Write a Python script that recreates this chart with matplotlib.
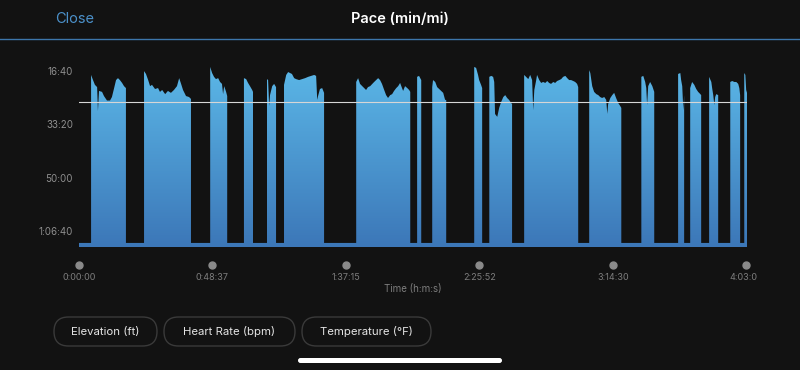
import numpy as np
import matplotlib
matplotlib.use('Agg')
import matplotlib.pyplot as plt
from matplotlib.colors import to_rgb
from matplotlib.patches import FancyBboxPatch, Rectangle
from matplotlib.transforms import blended_transform_factory

plt.rcParams['font.family'] = ['Inter', 'DejaVu Sans']

# elapsed time (minutes) and pace (min/mi) while moving; None = paused
elapsed_min = [
    4.4, 5.1, 5.8, 6.6, 6.9, 7.3, 8.4, 9.1, 10.2, 11.3, 12.0, 12.8, 13.5, 14.2, 14.9, 15.7, 16.4, 17.1, None,
    23.7, 24.4, 25.2, 25.9, 26.6, 27.7, 28.8, 29.5, 30.3, 31.4, 32.4, 33.5, 34.6, 35.7, 36.5, 37.2, 37.9, 39.0, 40.1, 40.8, None,
    47.8, 48.5, 49.2, 49.9, 50.7, 51.4, 52.1, 52.5, 52.9, 53.6, 54.0, None,
    60.1, 60.9, 61.6, 62.3, 63.1, 63.4, None,
    68.5, 68.9, 69.3, 69.6, 70.4, 71.1, 71.8, None,
    74.7, 75.5, 76.2, 76.9, 77.6, 78.4, 79.1, 80.2, 81.3, 82.4, 83.5, 84.6, 85.7, 86.4, 86.8, 87.1, 87.8, 88.6, 89.3, None,
    101.0, 101.7, 102.4, 103.2, 103.9, 104.6, 105.3, 106.1, 107.2, 107.9, 109.0, 109.7, 110.4, 111.2,
    111.9, 112.6, 113.4, 114.1, 114.8, 115.6, 116.3, 117.0, 117.7, 118.1, 118.8, 119.6, 120.3, 120.7, None,
    123.2, 123.9, 124.7, None,
    128.7, 129.0, 129.8, 130.5, 131.6, 132.7, 133.4, 133.8, None,
    144.0, 144.7, 145.4, 145.8, 146.5, 146.9, None,
    149.5, 150.2, 150.9, 151.3, 151.6, 152.4, 153.1, 153.8, 154.6, 155.3, 156.0, 156.7, 157.5, 157.8, None,
    162.2, 162.9, 163.7, 164.4, 165.1, 165.5, 165.9, 166.6, 166.9, 167.7, 168.4, 169.1, 169.9, 170.6, 171.3,
    172.0, 172.8, 173.5, 174.2, 175.0, 175.7, 176.4, 177.2, 177.9, 178.6, 179.3, 180.1, 180.8, 181.5, 181.9, None,
    185.9, 186.3, 187.0, 187.7, 188.5, 189.2, 189.9, 190.6, 191.4, 192.1, 192.5, 192.8, 193.6, 194.3, 195.0, 195.7, 196.5, 197.2, 197.6, None,
    204.9, 205.6, 206.3, 206.7, 207.0, 207.4, 208.1, 208.9, 209.6, None,
    218.3, 219.1, 219.4, 219.8, 220.2, 220.5, None,
    222.7, 223.4, 224.2, 224.9, 225.6, 226.4, 226.7, None,
    229.6, 230.4, 230.7, 231.1, 231.5, 231.8, 232.2, 232.9, None,
    237.3, 238.0, 238.8, 239.5, 240.2, 240.6, 240.9, None,
    242.4, 242.8, 243.1, 243.4,
]
pace_min = [
    17.9, 19.5, 21.0, 21.7, 29.2, 22.9, 23.2, 24.5, 25.9, 25.9, 24.8, 22.0, 19.5, 18.9, 19.5, 20.4, 21.4, 22.0, None,
    16.7, 17.6, 19.5, 21.4, 21.0, 22.3, 22.0, 23.2, 22.6, 23.9, 22.9, 23.5, 22.6, 21.4, 18.9, 20.7, 22.6, 24.5, 24.8, 25.4, None,
    15.4, 17.3, 18.5, 19.2, 18.9, 20.1, 20.7, 23.9, 21.4, 23.2, 24.5, None,
    18.9, 19.2, 20.4, 21.4, 22.6, 23.2, None,
    19.2, 19.5, 27.6, 24.2, 21.4, 20.7, 21.7, None,
    21.0, 17.9, 17.0, 17.3, 17.6, 18.9, 19.2, 19.5, 19.2, 18.9, 18.5, 18.2, 17.9, 18.2, 25.7, 24.5, 22.3, 22.0, 23.5, None,
    20.1, 18.9, 20.7, 21.4, 22.0, 22.6, 21.7, 21.4, 20.4, 19.8, 18.9, 19.5, 20.7, 22.6,
    24.2, 25.1, 24.2, 23.9, 22.9, 22.0, 21.4, 20.4, 22.0, 22.9, 21.4, 22.0, 22.6, 23.2, None,
    18.5, 18.2, 19.5, None,
    21.7, 19.5, 20.1, 21.7, 22.6, 23.5, 25.7, 25.7, None,
    15.4, 15.7, 17.9, 19.5, 21.0, 22.0, None,
    18.5, 18.2, 18.5, 20.1, 30.1, 31.0, 28.2, 26.4, 24.8, 24.2, 25.1, 25.7, 26.7, 27.0, None,
    17.9, 18.5, 19.2, 17.9, 19.5, 28.9, 22.6, 19.5, 17.9, 19.5, 20.4, 20.1, 20.4, 19.8, 20.4,
    20.7, 20.1, 20.4, 19.8, 19.5, 19.2, 18.5, 18.2, 18.9, 19.5, 19.5, 19.8, 20.1, 20.7, 21.7, None,
    16.4, 17.3, 21.4, 23.2, 23.9, 24.2, 24.8, 25.1, 24.8, 25.7, 30.1, 27.0, 25.1, 24.2, 23.5, 25.1, 26.7, 27.6, 28.2, None,
    18.5, 18.2, 20.1, 22.0, 27.3, 21.4, 20.1, 21.4, 23.2, None,
    17.6, 17.3, 19.5, 21.4, 28.9, 24.2, None,
    22.0, 20.1, 21.0, 22.3, 23.2, 23.9, 24.2, None,
    18.5, 20.1, 22.0, 24.2, 27.3, 24.8, 23.9, 24.2, None,
    20.1, 19.8, 20.1, 20.1, 20.7, 22.0, 24.2, None,
    17.3, 17.9, 22.6, 23.5,
]
stopped_pace = 70.4
avg_pace = 26.3

time_ticks = [0, 48.62, 97.25, 145.87, 194.5, 243.12]
time_labels = ['0:00:00', '0:48:37', '1:37:15', '2:25:52', '3:14:30', '4:03:07']
pace_ticks = [16.67, 33.33, 50.0, 66.67]
pace_labels = ['16:40', '33:20', '50:00', '1:06:40']
buttons = ['Elevation (ft)', 'Heart Rate (bpm)', 'Temperature (°F)']

BG = '#121212'
W, H = 800, 370

fig = plt.figure(figsize=(W / 100, H / 100), dpi=100, facecolor=BG)

# full-screen overlay in pixel units for the app chrome
screen = fig.add_axes([0, 0, 1, 1])
screen.set_xlim(0, W)
screen.set_ylim(H, 0)
screen.axis('off')
screen.set_zorder(0)

screen.text(55, 19, 'Close', color='#4b90c9', fontsize=10.5, ha='left', va='center')
screen.text(400, 19, 'Pace (min/mi)', color='white', fontsize=10.5, ha='center', va='center',
            weight='semibold')
screen.plot([0, W], [38.5, 38.5], color='#3d76ab', lw=1)

pill_x = [54, 164, 302]
pill_w = [103, 131, 129]
for label, x0, w in zip(buttons, pill_x, pill_w):
    screen.add_patch(FancyBboxPatch((x0, 317), w, 29, boxstyle='round,pad=0,rounding_size=14.5',
                                    facecolor='none', edgecolor='#3a3a3a', lw=1))
    screen.text(x0 + w / 2, 331.5, label, color='#e4e4e4', fontsize=8.2, ha='center', va='center')

screen.add_patch(FancyBboxPatch((298, 358), 204, 5, boxstyle='round,pad=0,rounding_size=2.5',
                                facecolor='white', edgecolor='none'))

# pace chart
ax = fig.add_axes([79 / W, 1 - 247 / H, 668 / W, 192 / H])
ax.set_zorder(1)
ax.patch.set_visible(False)
x_max = 243.4
y_bottom, y_top = 71.67, 11.67

t = np.array(elapsed_min, dtype=float)
p = np.array(pace_min, dtype=float)
cuts = np.where(np.isnan(t))[0]
xs, ys = [0.0], [stopped_pace]
for seg_t, seg_p in zip(np.split(t, cuts), np.split(p, cuts)):
    keep = ~np.isnan(seg_t)
    seg_t, seg_p = seg_t[keep], seg_p[keep]
    xs += [seg_t[0], *seg_t, seg_t[-1]]
    ys += [stopped_pace, *seg_p, stopped_pace]
xs.append(x_max)
ys.append(stopped_pace)

poly = ax.fill_between(xs, ys, y_bottom, facecolor='none', edgecolor='none')

top_rgb = np.array(to_rgb('#5dbbea'))
bot_rgb = np.array(to_rgb('#3c77b8'))
frac = np.linspace(0, 1, 256)[:, None]
grad = (top_rgb * (1 - frac) + bot_rgb * frac)[:, None, :]
img = ax.imshow(grad, extent=(0, x_max, y_bottom, y_top), origin='upper', aspect='auto',
                interpolation='bilinear', zorder=1)
img.set_clip_path(poly.get_paths()[0], transform=ax.transData)

ax.axhline(avg_pace, color='#d6d6d6', lw=0.8, zorder=3)

ax.set_xlim(0, x_max)
ax.set_ylim(y_bottom, y_top)
for side in ax.spines.values():
    side.set_visible(False)

ax.set_yticks(pace_ticks, pace_labels)
ax.tick_params(axis='y', length=0, pad=4.3, labelsize=7, labelcolor='#8e8e8e')
ax.set_xticks([])

trans = blended_transform_factory(ax.transData, ax.transAxes)
ax.plot(time_ticks, [-18 / 192] * len(time_ticks), 'o', ms=5, color='#8a8a8a',
        transform=trans, clip_on=False)

# the last time label is cut off at the right edge of the scroll view
label_clip = Rectangle((0, 0), 757, H, transform=screen.transData.inverted() + screen.transData,
                       visible=False)
label_clip.set_transform(fig.dpi_scale_trans)
label_clip.set_xy((0, 0))
label_clip.set_width(7.57)
label_clip.set_height(H / 100)
for tick, lab in zip(time_ticks, time_labels):
    txt = ax.text(tick, -30 / 192, lab, transform=trans, ha='center', va='center',
                  fontsize=6.5, color='#7d7d7d', clip_on=False)
    if tick == time_ticks[-1]:
        txt.set_clip_on(True)
        txt.set_clip_path(label_clip)

ax.text(0.5, -42 / 192, 'Time (h:m:s)', transform=ax.transAxes, ha='center', va='center',
        fontsize=7, color='#7d7d7d')

fig.savefig('out.png', dpi=100, facecolor=BG)
